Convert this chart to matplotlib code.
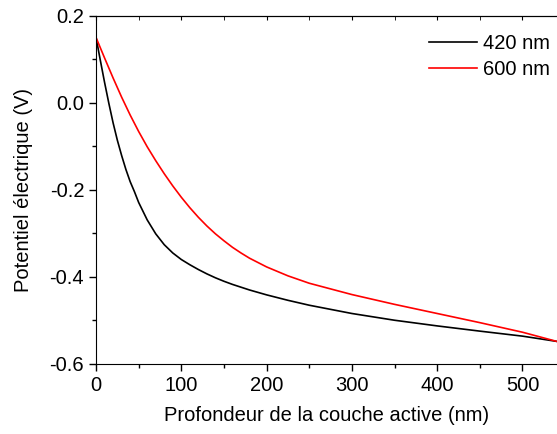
import matplotlib.pyplot as plt
from matplotlib.ticker import MultipleLocator

plt.rcParams['font.family'] = ['Liberation Sans', 'DejaVu Sans']

# -----------------------------
# Data
# -----------------------------
x_420 = [0, 5, 10, 15, 20, 25, 30, 35, 40, 45, 50, 55, 60, 65, 70, 80, 90,
         100, 110, 120, 130, 140, 150, 160, 180, 200, 225, 250, 300, 350,
         400, 450, 500, 540]
v_420 = [0.150, 0.098, 0.047, -0.001, -0.046, -0.086, -0.121, -0.153,
         -0.181, -0.204, -0.229, -0.249, -0.269, -0.285, -0.301, -0.326,
         -0.345, -0.360, -0.372, -0.383, -0.393, -0.402, -0.410, -0.4172,
         -0.430, -0.4412, -0.4537, -0.465, -0.484, -0.4995, -0.5125,
         -0.5245, -0.536, -0.548]

x_600 = [0, 10, 20, 30, 40, 50, 60, 70, 80, 90, 100, 110, 120, 130, 140,
         150, 160, 170, 180, 200, 225, 250, 300, 350, 400, 450, 500, 540]
v_600 = [0.150, 0.103, 0.057, 0.013, -0.028, -0.066, -0.101, -0.133,
         -0.163, -0.191, -0.217, -0.241, -0.263, -0.283, -0.301, -0.317,
         -0.332, -0.345, -0.357, -0.377, -0.3975, -0.4145, -0.4405, -0.463,
         -0.484, -0.505, -0.527, -0.548]

labels = ["420 nm", "600 nm"]

# -----------------------------
# Plot
# -----------------------------
fig = plt.figure(figsize=(5.57, 4.34), dpi=100)
ax = fig.add_axes([0.1724, 0.1613, 1.0 - 0.1724, 0.9638 - 0.1613])

ax.plot(x_420, v_420, color='black', lw=1.2, label=labels[0])
ax.plot(x_600, v_600, color='#ff0000', lw=1.2, label=labels[1])

ax.set_xlim(0, 540.5)
ax.set_ylim(-0.6, 0.2)
ax.xaxis.set_major_locator(MultipleLocator(100))
ax.xaxis.set_minor_locator(MultipleLocator(50))
ax.yaxis.set_major_locator(MultipleLocator(0.2))
ax.yaxis.set_minor_locator(MultipleLocator(0.1))
ax.yaxis.set_major_formatter(plt.FuncFormatter(lambda v, p: "%.1f" % v))

ax.spines['right'].set_visible(False)
ax.tick_params(which='both', direction='out', labelsize=14.5, top=False, right=False)
ax.tick_params(which='major', length=5, width=1)
ax.tick_params(which='minor', length=3, width=1)

# inward ticks on the top spine, no labels
top = ax.secondary_xaxis('top')
top.xaxis.set_major_locator(MultipleLocator(100))
top.xaxis.set_minor_locator(MultipleLocator(50))
top.tick_params(which='both', direction='in', length=3, labeltop=False)

ax.set_xlabel("Profondeur de la couche active (nm)", fontsize=14.5, labelpad=8)
ax.set_ylabel("Potentiel électrique (V)", fontsize=14.5, labelpad=12)

ax.legend(loc='upper right', bbox_to_anchor=(0.988, 0.921), bbox_transform=fig.transFigure,
          frameon=False, fontsize=14.5, handlelength=2.4, handletextpad=0.3,
          labelspacing=0.35, borderpad=0, borderaxespad=0)

fig.savefig("out.png", dpi=100)
